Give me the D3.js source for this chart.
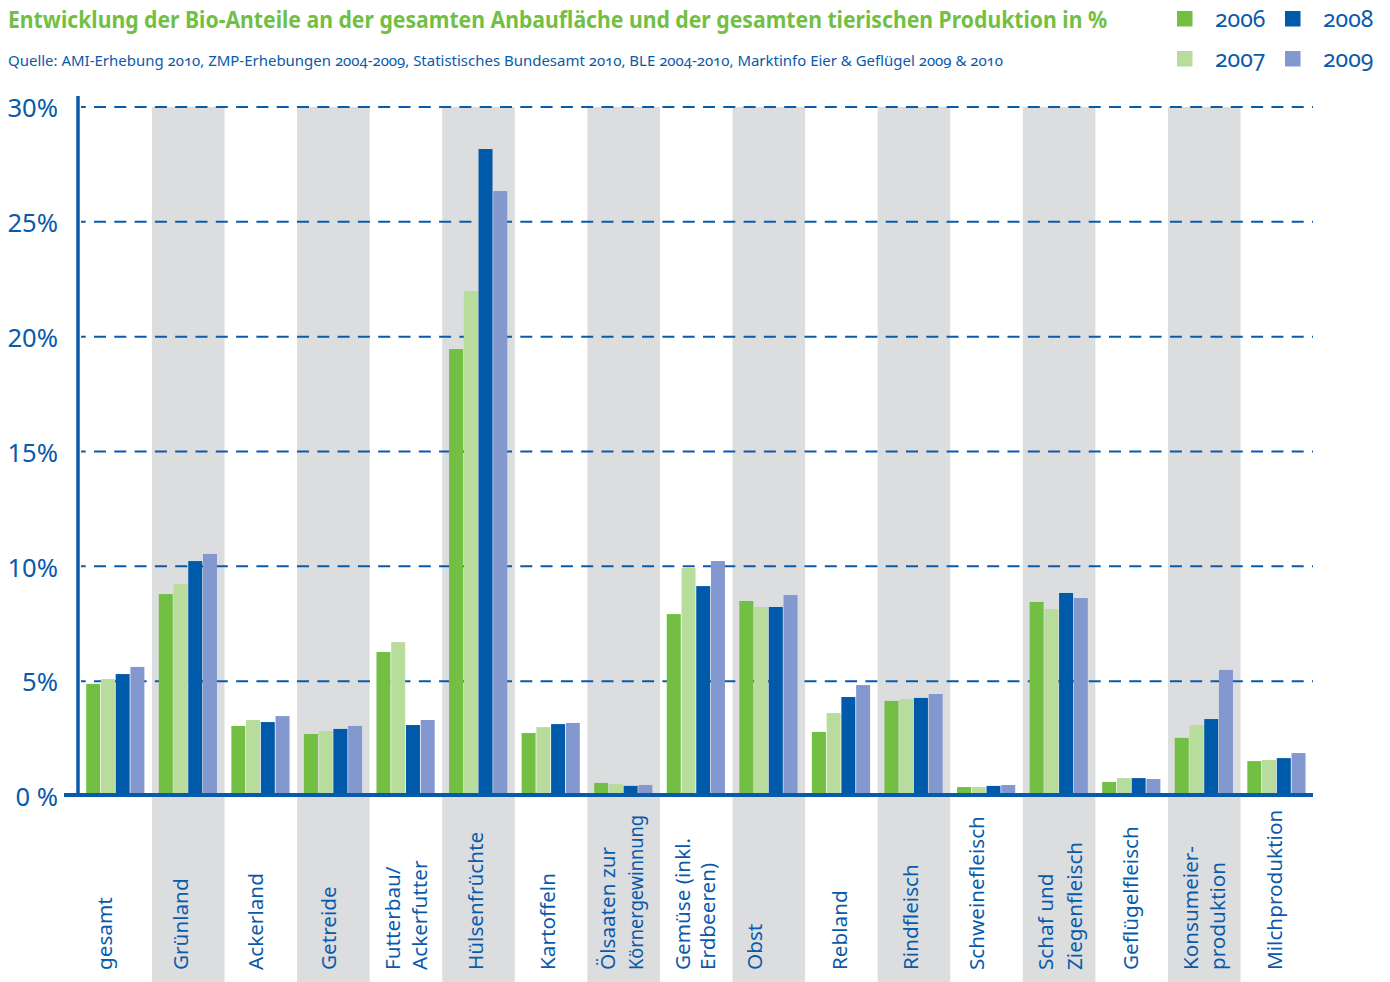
<!DOCTYPE html>
<html lang="de">
<head>
<meta charset="utf-8">
<title>Bio-Anteile</title>
<script src="https://cdn.jsdelivr.net/npm/d3@7"></script>
<style>
  html, body { margin: 0; padding: 0; background: #fff; }
  svg { display: block; font-family: "Noto Sans", "Open Sans", sans-serif; }
  .onum { font-variant-numeric: oldstyle-nums; font-feature-settings: "onum" 1; }
</style>
</head>
<body>
<svg id="chart" width="1390" height="982"></svg>
<script>
// Categories (line breaks mark two-line labels)
const categories = [
  "gesamt", "Grünland", "Ackerland", "Getreide", "Futterbau/\nAckerfutter",
  "Hülsenfrüchte", "Kartoffeln", "Ölsaaten zur\nKörnergewinnung", "Gemüse (inkl.\nErdbeeren)",
  "Obst", "Rebland", "Rindfleisch", "Schweinefleisch", "Schaf und\nZiegenfleisch",
  "Geflügelfleisch", "Konsumeier-\nproduktion", "Milchproduktion"
];
const years = ["2006", "2007", "2008", "2009"];

// Bio share in percent per category
const v2006 = [4.88, 8.79, 3.05, 2.70, 6.27, 19.46, 2.74, 0.57, 7.92, 8.49, 2.79, 4.14, 0.39, 8.45, 0.61, 2.53, 1.52];
const v2007 = [5.09, 9.23, 3.31, 2.83, 6.70, 21.99, 3.00, 0.52, 9.93, 8.23, 3.61, 4.22, 0.39, 8.14, 0.78, 3.09, 1.57];
const v2008 = [5.31, 10.23, 3.22, 2.92, 3.09, 28.17, 3.13, 0.44, 9.14, 8.23, 4.31, 4.27, 0.44, 8.84, 0.78, 3.35, 1.65];
const v2009 = [5.62, 10.54, 3.48, 3.05, 3.31, 26.34, 3.18, 0.48, 10.23, 8.75, 4.83, 4.44, 0.48, 8.62, 0.74, 5.49, 1.87];

const yTicks = [0, 5, 10, 15, 20, 25, 30];
const yTickLabels = ["0 %", "5%", "10%", "15%", "20%", "25%", "30%"];

const titleText = "Entwicklung der Bio-Anteile an der gesamten Anbaufläche und der gesamten tierischen Produktion in %";
const sourceText = "Quelle: AMI-Erhebung 2010, ZMP-Erhebungen 2004-2009, Statistisches Bundesamt 2010, BLE 2004-2010, Marktinfo Eier & Geflügel 2009 & 2010";

// ---- layout & styling ----
const colors = { "2006": "#72bf44", "2007": "#b8dc9c", "2008": "#005aaa", "2009": "#8398cf" };
const blue = "#0a5aaa";
const bandGrey = "#dcdddf";
// baseline shift of each category label, measured from the band's left edge
const labelShift = [32.3, 35.7, 38.5, 38.9, 30.3, 40.7, 40.2, 27.6, 30, 29.5, 41.9, 40.3, 33.8, 30.2, 42.6, 30.1, 41.5];
const lineGap = [0, 27, 0, 0, 27, 0, 0, 28, 25, 0, 0, 0, 0, 29, 0, 27, 0];
const maxLabelLength = 163;
const fittedLabelLength = 155;
const bandW = 72.57;
const plotLeft = 79.4;

const series = years.map((yr, k) => ({ year: yr, values: [v2006, v2007, v2008, v2009][k] }));
const table = categories.map((c, i) => ({ cat: c, idx: i, vals: series.map(s => ({ year: s.year, v: s.values[i] })) }));

const svg = d3.select("#chart");

const x = d3.scaleBand().domain(d3.range(categories.length)).range([plotLeft, plotLeft + bandW * categories.length]).padding(0);
const y = d3.scaleLinear().domain([0, 30]).range([796, 107]);
const x1 = d3.scaleBand().domain(years).range([6.8, 65]).paddingInner(0.05).paddingOuter(0);

// alternating grey bands, running down through the label area
svg.append("g").selectAll("rect")
  .data(table.filter(d => d.idx % 2 === 1))
  .join("rect")
  .attr("x", d => x(d.idx))
  .attr("width", x.bandwidth())
  .attr("y", y(30))
  .attr("height", 982 - y(30))
  .attr("fill", bandGrey);

// dashed gridlines
svg.append("g").selectAll("line")
  .data(yTicks.filter(t => t > 0))
  .join("line")
  .attr("x1", 81).attr("x2", 1313)
  .attr("y1", d => y(d)).attr("y2", d => y(d))
  .attr("stroke", blue)
  .attr("stroke-width", 2)
  .attr("stroke-dasharray", "12 8.3")
  .attr("stroke-dashoffset", 7.3);

// grouped bars
const groups = svg.append("g").selectAll("g")
  .data(table)
  .join("g")
  .attr("transform", d => `translate(${x(d.idx)},0)`);

groups.selectAll("rect")
  .data(d => d.vals)
  .join("rect")
  .attr("x", d => x1(d.year))
  .attr("width", x1.bandwidth())
  .attr("y", d => y(d.v))
  .attr("height", d => y(0) - y(d.v))
  .attr("fill", d => colors[d.year]);

// axes lines
svg.append("line")
  .attr("x1", 78).attr("x2", 78).attr("y1", 96).attr("y2", 797)
  .attr("stroke", blue).attr("stroke-width", 3.5);
svg.append("line")
  .attr("x1", 64).attr("x2", 1313).attr("y1", 795).attr("y2", 795)
  .attr("stroke", blue).attr("stroke-width", 4);

// y tick labels
const yAxis = d3.axisLeft(y)
  .tickValues(yTicks)
  .tickSize(0)
  .tickPadding(0)
  .tickFormat((d, i) => yTickLabels[i]);
const gy = svg.append("g").attr("transform", "translate(58,0)").call(yAxis);
gy.select(".domain").remove();
gy.selectAll("text")
  .attr("fill", blue)
  .attr("font-size", 25.6)
  .attr("font-family", '"Noto Sans", sans-serif')
  .attr("dy", "0.38em");

// category labels, rotated, one text per line
const labelLines = table.flatMap(d =>
  d.cat.split("\n").map((ln, j) => ({ text: ln, idx: d.idx, line: j }))
);
svg.append("g").selectAll("text")
  .data(labelLines)
  .join("text")
  .attr("fill", blue)
  .attr("font-size", 20.7)
  .attr("transform", d => `translate(${x(d.idx) + labelShift[d.idx] + d.line * lineGap[d.idx]},970) rotate(-90)`)
  .text(d => d.text)
  .each(function () {
    // keep long lines clear of the axis
    if (this.getComputedTextLength() > maxLabelLength) {
      d3.select(this).attr("textLength", fittedLabelLength).attr("lengthAdjust", "spacingAndGlyphs");
    }
  });

// title and source
svg.append("text")
  .attr("x", 8).attr("y", 28)
  .attr("fill", "#72bf44")
  .attr("font-size", 23)
  .attr("font-weight", 700)
  .attr("textLength", 1099)
  .attr("lengthAdjust", "spacingAndGlyphs")
  .text(titleText);
svg.append("text")
  .attr("class", "onum")
  .attr("x", 8).attr("y", 66)
  .attr("fill", blue)
  .attr("font-size", 14.5)
  .attr("textLength", 995)
  .attr("lengthAdjust", "spacingAndGlyphs")
  .text(sourceText);

// legend: two columns, two rows
const legend = svg.append("g").selectAll("g")
  .data(years)
  .join("g")
  .attr("transform", (d, i) => `translate(${1177 + Math.floor(i / 2) * 108},${11 + (i % 2) * 40})`);
legend.append("rect")
  .attr("width", 15.5).attr("height", 15.5)
  .attr("fill", d => colors[d]);
legend.append("text")
  .attr("class", "onum")
  .attr("x", 38).attr("y", 16)
  .attr("fill", blue)
  .attr("font-size", 23)
  .text(d => d);
</script>
</body>
</html>
